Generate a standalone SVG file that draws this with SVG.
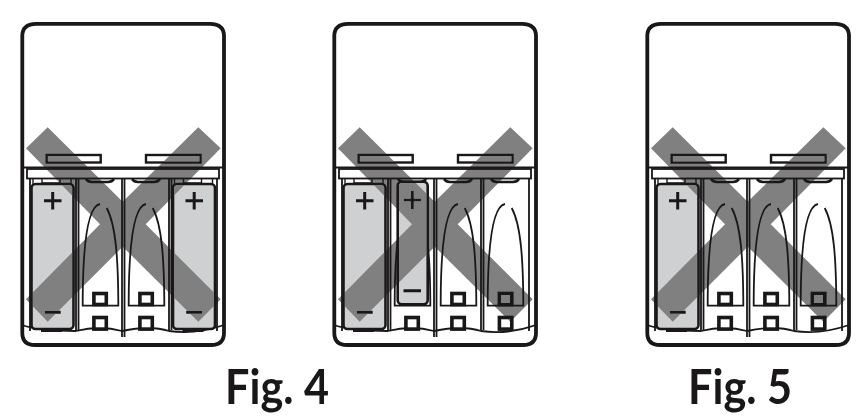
<svg xmlns="http://www.w3.org/2000/svg" width="864" height="419" viewBox="0 0 864 419">
<style>
.o{fill:none;stroke:#1a1718;stroke-width:3.8}
.l{fill:none;stroke:#1a1718;stroke-width:1.8}
.t{fill:none;stroke:#1a1718;stroke-width:1.4}
.b{fill:#cfd0d1;stroke:#1a1718;stroke-width:2.6}
.s{fill:#fff;stroke:#1a1718;stroke-width:2.4}
.m{fill:none;stroke:#1a1718;stroke-width:2.6}
.p{fill:none;stroke:#1a1718;stroke-width:3}
.e{fill:#fff;stroke:#1a1718;stroke-width:3.6}
.x{fill:#808080;mix-blend-mode:darken}
.c{font-family:Lato,"Open Sans",sans-serif;font-size:48.500px;font-weight:700;fill:#1a1718}
</style>
<defs>
<g id="case">
<path class="o" d="M22.300 36Q22.300 24 36 23.800H210Q224 24 224 36V333Q224 345 211 345H35Q22.300 345 22.300 333Z"/>
<path class="l" d="M22 167.500H224"/>
<rect class="l" x="27" y="169" width="192" height="9.500" fill="#fff"/>
<rect class="s" x="46.700" y="155" width="54" height="7.500"/>
<rect class="s" x="146" y="155" width="54.500" height="7.500"/>
<path class="l" d="M30 178V331M217 178V331M76 178V330M78.500 178V330M122 178V337M124.500 178V337M169 178V330M171.500 178V330"/>
<path class="l" d="M22 325Q40 331 76 331Q100 325 122 331Q150 325 169 331Q195 335 224 325"/>
</g>
<g id="arch">
<path class="l" d="M100 204C88 206 83 240 82.700 300V305.700H118.300V300C118 260 116 225 106.700 208"/>
<path class="m" d="M86 179Q88 182 92 182H108Q112 182 114 179"/>
</g>
<rect id="term" x="93.900" y="293.500" width="12.400" height="11" class="e"/>
<rect id="term2" x="93.900" y="317.500" width="12.400" height="11.600" class="e"/>
<g id="cell">
<path class="t" d="M33 178V184M42 178V183H60V178M71 178V184"/>
<rect class="b" x="31.500" y="184" width="42" height="145" rx="4"/>
<path class="p" d="M41 330.500H62"/>
<path class="p" d="M52.700 192V209.500M44 200.700H61.500M44.700 312.300H60.700"/>
</g>
</defs>

<g id="unit-left">
<use href="#case"/>
<use href="#cell"/>
<use href="#cell" x="141.500"/>
<use href="#arch"/><use href="#arch" x="46"/>
<use href="#term"/><use href="#term2"/>
<use href="#term" x="46"/><use href="#term2" x="46"/>
<polygon class="x" points="47.700,127.300 122.700,201.700 198.300,127.300 220.700,148.300 145.700,224.300 220.700,299.300 198.300,321.700 122.700,246.700 47.700,321.700 26,299.300 100,224.300 26,148.300"/>
</g>

<g id="unit-middle" transform="translate(312 0)">
<use href="#case"/>
<use href="#cell"/>
<use href="#arch" x="0"/>
<use href="#arch" x="46"/><use href="#arch" x="93"/>
<use href="#term2"/>
<use href="#term" x="46"/><use href="#term2" x="46"/>
<use href="#term" x="93.500"/><use href="#term2" x="93.500"/>
<rect class="b" x="85.700" y="181.700" width="30" height="122.500" rx="4"/>
<path class="p" d="M100.300 191V209M91.500 200H109M91.500 290.700H109"/>
<polygon class="x" points="47.700,127.300 122.700,201.700 198.300,127.300 220.700,148.300 145.700,224.300 220.700,299.300 198.300,321.700 122.700,246.700 47.700,321.700 26,299.300 100,224.300 26,148.300"/>
</g>

<g id="unit-right" transform="translate(625 0)">
<use href="#case"/>
<use href="#cell"/>
<use href="#arch" x="0"/>
<use href="#arch" x="46"/><use href="#arch" x="93"/>
<use href="#term"/><use href="#term2"/>
<use href="#term" x="46"/><use href="#term2" x="46"/>
<use href="#term" x="93.500"/><use href="#term2" x="93.500"/>
<polygon class="x" points="47.700,127.300 122.700,201.700 198.300,127.300 220.700,148.300 145.700,224.300 220.700,299.300 198.300,321.700 122.700,246.700 47.700,321.700 26,299.300 100,224.300 26,148.300"/>
</g>

<g id="captions">
<text class="c" x="225" y="404" textLength="104" lengthAdjust="spacingAndGlyphs">Fig. 4</text>
<text class="c" x="688" y="404" textLength="104" lengthAdjust="spacingAndGlyphs">Fig. 5</text>
</g>
</svg>
